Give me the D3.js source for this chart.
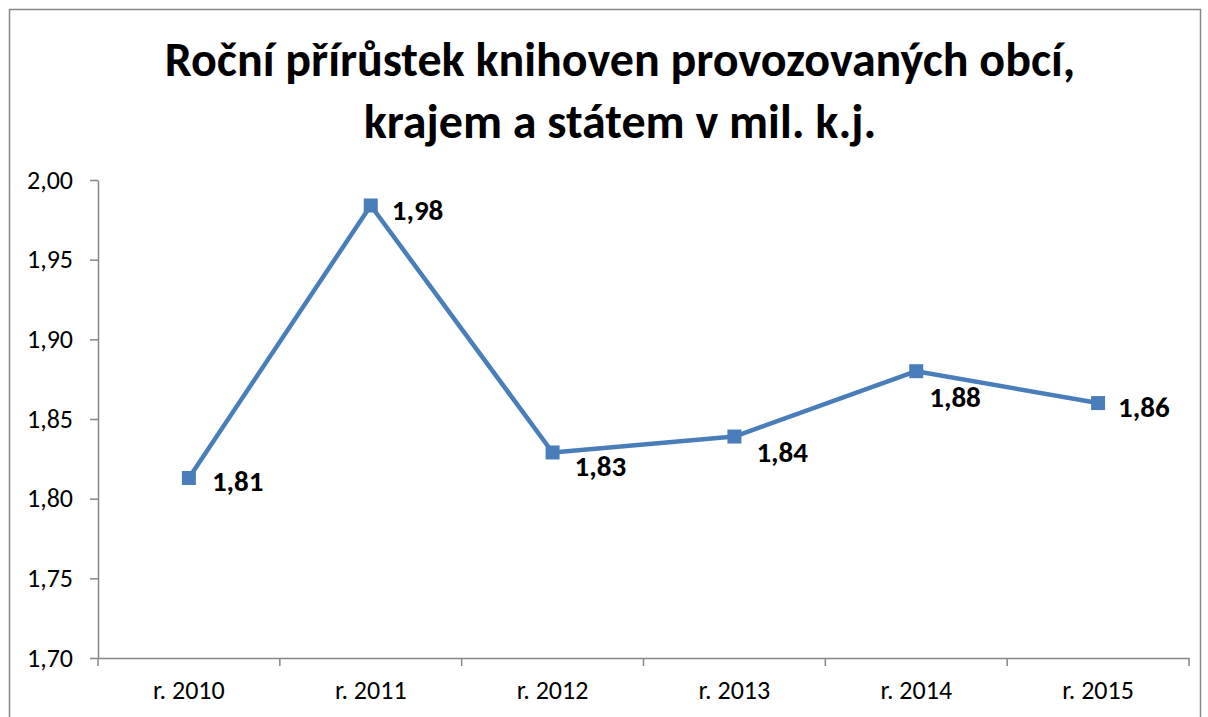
<!DOCTYPE html>
<html>
<head>
<meta charset="utf-8">
<script src="https://cdn.jsdelivr.net/npm/d3@7"></script>
<style>
  body { margin: 0; background: #fff; }
  text { font-family: Carlito, "Open Sans", "Noto Sans", sans-serif; }
</style>
</head>
<body>
<svg width="1208" height="717"></svg>
<script>
const titleLines = ["Roční přírůstek knihoven provozovaných obcí,", "krajem a státem v mil. k.j."];
const years = ["r. 2010", "r. 2011", "r. 2012", "r. 2013", "r. 2014", "r. 2015"];
const values = [1.813, 1.984, 1.829, 1.839, 1.880, 1.860];
const labels = ["1,81", "1,98", "1,83", "1,84", "1,88", "1,86"];
const yTicks = [1.70, 1.75, 1.80, 1.85, 1.90, 1.95, 2.00];
// label offsets from the point (dx, dy)
const labelOffsets = [[23, 3], [21, 4], [22, 13], [22, 15], [13, 26], [20, 4]];

const margin = { top: 180, right: 19, bottom: 59, left: 98 },
      width = 1208 - margin.left - margin.right,
      height = 717 - margin.top - margin.bottom;

const svgRoot = d3.select("svg");

// outer chart border
svgRoot.append("rect")
  .attr("x", 9.5).attr("y", 9.5)
  .attr("width", 1191).attr("height", 720)
  .attr("fill", "none")
  .attr("stroke", "#868686")
  .attr("stroke-width", 1.5);

svgRoot.append("text")
  .attr("x", 620).attr("y", 0)
  .attr("text-anchor", "middle")
  .attr("font-weight", "bold")
  .attr("font-size", 48)
  .attr("fill", "#000")
  .selectAll("tspan")
  .data(titleLines)
  .enter()
  .append("tspan")
  .attr("x", 620)
  .attr("y", (d, i) => 76 + i * 62)
  .text(d => d);

const svg = svgRoot.append("g")
  .attr("transform", `translate(${margin.left},${margin.top})`);

const x = d3.scaleBand().domain(years).range([0, width]);
const y = d3.scaleLinear().domain([1.70, 2.00]).range([height, 0]);

const fmt = d => d3.format(".2f")(d).replace(".", ",");

const yAxis = svg.append("g")
  .call(d3.axisLeft(y).tickValues(yTicks).tickFormat(fmt).tickSize(8).tickSizeOuter(0).tickPadding(17));

const xAxis = svg.append("g")
  .attr("transform", `translate(0,${height})`)
  .call(d3.axisBottom(x).tickSize(0).tickPadding(23));

// category boundary ticks
svg.append("g")
  .selectAll("line")
  .data(d3.range(years.length + 1))
  .enter()
  .append("line")
  .attr("x1", i => i * x.step())
  .attr("x2", i => i * x.step())
  .attr("y1", height)
  .attr("y2", height + 8)
  .attr("stroke", "#868686")
  .attr("stroke-width", 1.5);

[yAxis, xAxis].forEach(a => {
  a.selectAll("path, line").attr("stroke", "#868686").attr("stroke-width", 1.5);
  a.selectAll("text").attr("font-size", 26).attr("fill", "#000")
    .style("font-family", 'Carlito, "Open Sans", "Noto Sans", sans-serif');
});

const pts = years.map((c, i) => ({ cat: c, value: values[i], label: labels[i], off: labelOffsets[i] }));
const cx = d => x(d.cat) + x.bandwidth() / 2;

const line = d3.line()
  .x(cx)
  .y(d => y(d.value));

svg.append("path")
  .datum(pts)
  .attr("fill", "none")
  .attr("stroke", "#4a7ebb")
  .attr("stroke-width", 4.5)
  .attr("stroke-linejoin", "round")
  .attr("d", line);

svg.selectAll(".marker")
  .data(pts)
  .enter()
  .append("rect")
  .attr("class", "marker")
  .attr("x", d => cx(d) - 7)
  .attr("y", d => y(d.value) - 7)
  .attr("width", 14)
  .attr("height", 14)
  .attr("fill", "#4a7ebb");

svg.selectAll(".lbl")
  .data(pts)
  .enter()
  .append("text")
  .attr("class", "lbl")
  .attr("x", d => cx(d) + d.off[0])
  .attr("y", d => y(d.value) + d.off[1])
  .attr("dy", "0.35em")
  .attr("font-size", 29)
  .attr("font-weight", "bold")
  .attr("fill", "#000")
  .text(d => d.label);
</script>
</body>
</html>
